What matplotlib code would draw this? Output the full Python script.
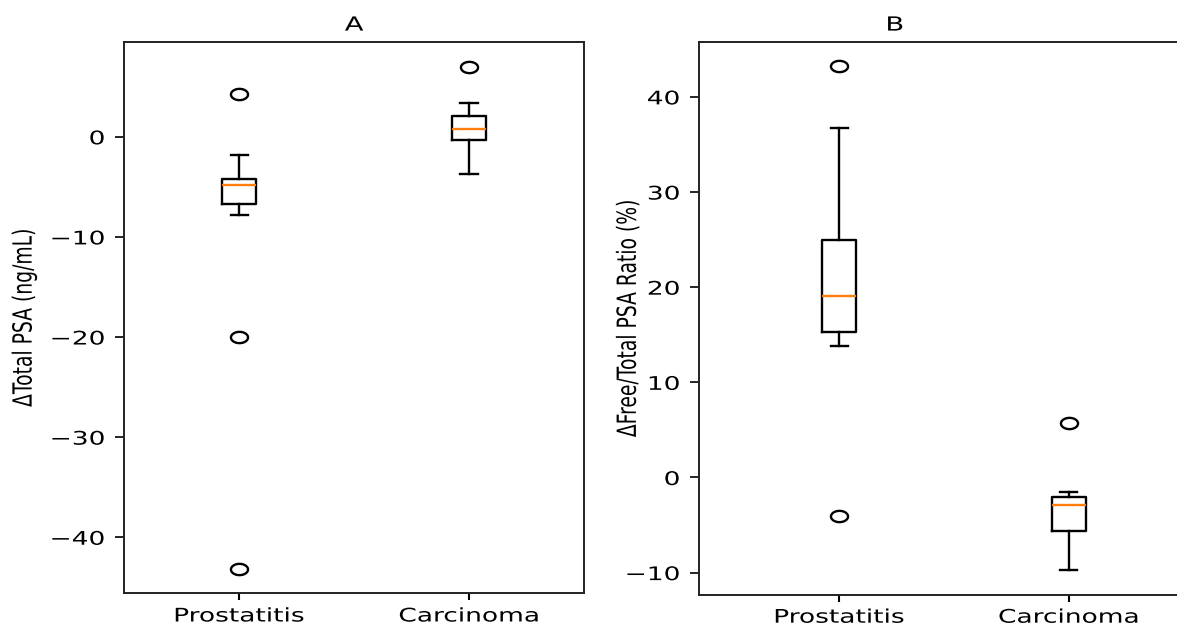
import numpy as np
import matplotlib
matplotlib.use("Agg")
import matplotlib.pyplot as plt
from matplotlib.path import Path
from matplotlib.patheffects import AbstractPathEffect
from matplotlib.transforms import Affine2D

# ---------------- data ----------------
categories = ["Prostatitis", "Carcinoma"]

# Panel A: ΔTotal PSA (ng/mL)
a_whislo = [-7.8, -3.7]
a_q1 = [-6.7, -0.3]
a_med = [-4.8, 0.8]
a_q3 = [-4.2, 2.1]
a_whishi = [-1.8, 3.4]
a_fliers = [[4.3, -20.0, -43.2], [7.0]]

# Panel B: ΔFree/Total PSA Ratio (%)
b_whislo = [13.8, -9.7]
b_q1 = [15.3, -5.6]
b_med = [19.1, -2.9]
b_q3 = [25.0, -2.1]
b_whishi = [36.7, -1.5]
b_fliers = [[43.2, -4.0], [5.7]]

a_yticks = [-40, -30, -20, -10, 0]
b_yticks = [-10, 0, 10, 20, 30, 40]

titles = ["A", "B"]
ylabels = ["ΔTotal PSA (ng/mL)", "ΔFree/Total PSA Ratio (%)"]

# ---------------- helpers ----------------
STRETCH = 1.41


class HStretch(AbstractPathEffect):
    """Stretch rendered text horizontally (display space) about an anchor."""

    def __init__(self, k=STRETCH, anchor="center"):
        super().__init__()
        self.k = k
        self.anchor = anchor

    def draw_path(self, renderer, gc, tpath, affine, rgbFace=None):
        ext = affine.transform_path(tpath).get_extents()
        if self.anchor == "right":
            a = ext.x1
        elif self.anchor == "left":
            a = ext.x0
        else:
            a = 0.5 * (ext.x0 + ext.x1)
        new = affine + Affine2D().translate(-a, 0).scale(self.k, 1.0).translate(a, 0)
        renderer.draw_path(gc, tpath, new, rgbFace)


def stats_list(lo, q1, med, q3, hi, fl):
    out = []
    for i, lab in enumerate(categories):
        out.append(dict(label=lab, whislo=lo[i], q1=q1[i], med=med[i],
                        q3=q3[i], whishi=hi[i], fliers=fl[i]))
    return out


theta = np.linspace(0, 2 * np.pi, 61)
ellipse = Path(np.column_stack([np.cos(theta), 0.66 * np.sin(theta)]), closed=True)

LW = 1.7
FS = 13.5

boxprops = dict(color="black", linewidth=LW)
whiskerprops = dict(color="black", linewidth=LW)
capprops = dict(color="black", linewidth=LW)
medianprops = dict(color="#ff7f0e", linewidth=LW)
flierprops = dict(marker=ellipse, markersize=12.3, markerfacecolor="none",
                  markeredgecolor="black", markeredgewidth=LW, linestyle="none")

fig = plt.figure(figsize=(11.77, 6.28), dpi=100)
W, H = 1177.0, 628.0

axA = fig.add_axes([124.3 / W, (H - 593.3) / H, (584.0 - 124.3) / W, (593.3 - 41.7) / H])
axB = fig.add_axes([699.3 / W, (H - 594.5) / H, 483.0 / W, (594.5 - 41.7) / H])

panels = [
    (axA, stats_list(a_whislo, a_q1, a_med, a_q3, a_whishi, a_fliers), a_yticks,
     (-45.6, 9.5), (0.5, 2.5), 0.5, -0.1975),
    (axB, stats_list(b_whislo, b_q1, b_med, b_q3, b_whishi, b_fliers), b_yticks,
     (-12.3, 45.8), (0.39, 2.495), 0.405, -0.128),
]

for i, (ax, st, yt, ylim, xlim, tx, lx) in enumerate(panels):
    ax.bxp(st, positions=[1, 2], boxprops=boxprops, whiskerprops=whiskerprops,
           capprops=capprops, medianprops=medianprops, flierprops=flierprops)
    ax.set_ylim(*ylim)
    ax.set_xlim(*xlim)
    ax.set_yticks(yt)
    ax.set_xticks([1, 2])
    ax.set_xticklabels(categories)
    ax.tick_params(axis="y", length=6.5, width=1.2, pad=7.5, labelsize=FS)
    ax.tick_params(axis="x", length=5.0, width=1.5, pad=4.5, labelsize=FS)
    for sp in ax.spines.values():
        sp.set_linewidth(1.4)
        sp.set_color("#222222")
    t = ax.set_title(titles[i], fontsize=FS + 0.5, x=tx, pad=8)
    t.set_path_effects([HStretch(anchor="center")])
    yl = ax.set_ylabel(ylabels[i], fontsize=FS)
    ax.yaxis.set_label_coords(lx, 0.5)
    yl.set_path_effects([HStretch(anchor="center")])
    for lbl in ax.get_yticklabels():
        lbl.set_path_effects([HStretch(anchor="right")])
    for lbl in ax.get_xticklabels():
        lbl.set_path_effects([HStretch(anchor="center")])

fig.savefig("out.png", dpi=100)
